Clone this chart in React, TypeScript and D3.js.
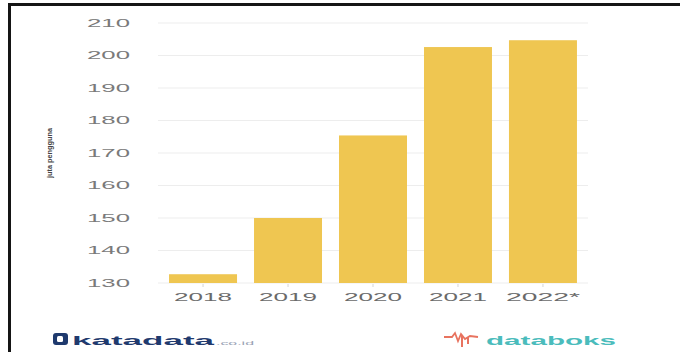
import React from "react";
import * as d3 from "d3";

const categories = ["2018", "2019", "2020", "2021", "2022*"];
const values = [132.7, 150, 175.4, 202.6, 204.7];
const yTicks = [130, 140, 150, 160, 170, 180, 190, 200, 210];
const yTitle = "juta pengguna";

const W = 681;
const H = 352;

export default function App() {
  const x = d3
    .scaleBand<string>()
    .domain(categories)
    .range([158, 588])
    .paddingInner(0.2)
    .paddingOuter(0.13);
  const y = d3.scaleLinear().domain([130, 210]).range([283, 23]);
  const font = "'Liberation Sans', Arial, sans-serif";

  return (
    <svg
      width={W}
      height={H}
      style={{ position: "absolute", left: 0, top: 0, background: "#fff" }}
    >
      <rect x={0} y={0} width={W} height={H} fill="#fff" />
      {/* frame */}
      <rect x={8} y={3} width={672} height={3} fill="#151515" />
      <rect x={8} y={3} width={3} height={H - 3} fill="#151515" />

      {/* grid */}
      {yTicks.map((t) => (
        <line
          key={t}
          x1={158}
          x2={588}
          y1={y(t)}
          y2={y(t)}
          stroke="#ededed"
          strokeWidth={1}
        />
      ))}
      {/* y tick labels */}
      {yTicks.map((t) => (
        <text
          key={"l" + t}
          x={130}
          y={y(t)}
          dy="0.35em"
          textAnchor="end"
          fontFamily={font}
          fontSize={10.5}
          fill="#7a7a7a"
          textLength={43}
          lengthAdjust="spacingAndGlyphs"
        >
          {t}
        </text>
      ))}

      {/* bars */}
      {categories.map((c, i) => (
        <rect
          key={c}
          x={x(c)}
          y={y(values[i])}
          width={x.bandwidth()}
          height={y(130) - y(values[i])}
          fill="#EFC651"
        />
      ))}

      {/* x ticks */}
      {categories.map((c) => (
        <line
          key={"t" + c}
          x1={(x(c) as number) + x.bandwidth() / 2}
          x2={(x(c) as number) + x.bandwidth() / 2}
          y1={284}
          y2={287}
          stroke="#d5d5d5"
          strokeWidth={1}
        />
      ))}
      {/* x labels */}
      {categories.map((c) => (
        <text
          key={"x" + c}
          x={(x(c) as number) + x.bandwidth() / 2}
          y={297}
          dy="0.35em"
          textAnchor="middle"
          fontFamily={font}
          fontSize={10.5}
          fill="#6a6a6a"
          textLength={c.length > 4 ? 74 : 58}
          lengthAdjust="spacingAndGlyphs"
        >
          {c}
        </text>
      ))}

      {/* y title */}
      <text
        transform="translate(51.5,153) rotate(-90)"
        textAnchor="middle"
        fontFamily={font}
        fontSize={8}
        fontWeight="bold"
        fill="#444"
        textLength={50}
        lengthAdjust="spacingAndGlyphs"
      >
        {yTitle}
      </text>

      {/* katadata logo */}
      <rect x={53} y={333} width={15} height={12} rx={3} fill="#1f3a6e" />
      <rect x={57} y={336} width={6} height={6} rx={1.5} fill="#fff" />
      <text
        x={72}
        y={344.5}
        fontFamily={font}
        fontSize={13}
        fontWeight="bold"
        fill="#1f3a6e"
        textLength={142}
        lengthAdjust="spacingAndGlyphs"
      >
        katadata
      </text>
      <text
        x={216}
        y={344.5}
        fontFamily={font}
        fontSize={6}
        fill="#9aa3b5"
        textLength={38}
        lengthAdjust="spacingAndGlyphs"
      >
        .co.id
      </text>

      {/* databoks logo */}
      <path
        d="M444,337 L452,337 L455,333 L458,341 L461,334 L465,339 L470,336 L478,337"
        fill="none"
        stroke="#e8735f"
        strokeWidth={1.8}
      />
      <line x1={462} x2={462} y1={336} y2={347} stroke="#e8735f" strokeWidth={2} />
      <line x1={468} x2={468} y1={337} y2={344} stroke="#e8735f" strokeWidth={2} />
      <text
        x={486}
        y={344.5}
        fontFamily={font}
        fontSize={13}
        fontWeight="bold"
        fill="#4bbcbc"
        textLength={130}
        lengthAdjust="spacingAndGlyphs"
      >
        databoks
      </text>
    </svg>
  );
}
